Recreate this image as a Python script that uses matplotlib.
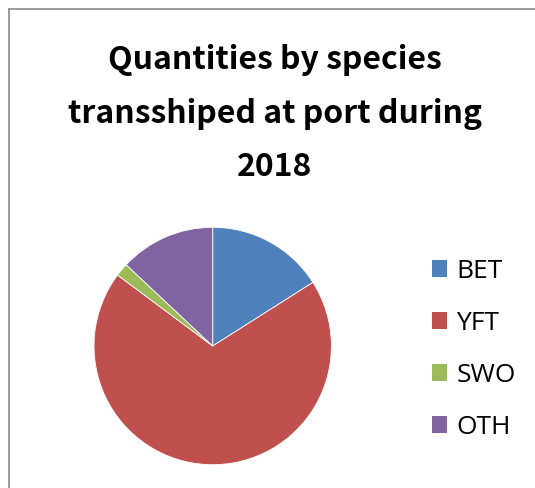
import matplotlib
matplotlib.use("Agg")
import matplotlib.pyplot as plt
from matplotlib.lines import Line2D
from matplotlib.patches import Patch

categories = ["BET", "YFT", "SWO", "OTH"]
values = [16.0, 69.2, 1.8, 13.0]
colors = ["#4F81BD", "#C0504D", "#9BBB59", "#8064A2"]
title = "Quantities by species\ntransshiped at port during\n2018"

W, H = 535, 488
fig = plt.figure(figsize=(W / 100, H / 100), dpi=100)
fig.patch.set_facecolor("white")

cx, cy, r = 212.7, 346, 118.7
ax = fig.add_axes([(cx - r) / W, (H - cy - r) / H, 2 * r / W, 2 * r / H])
ax.pie(values, colors=colors, startangle=90, counterclock=False,
       wedgeprops=dict(linewidth=0.6, edgecolor="white"))
ax.set_xlim(-1, 1)
ax.set_ylim(-1, 1)
ax.set_aspect("auto")
ax.axis("off")

# frame
fig.add_artist(Line2D([8.5 / W, 8.5 / W], [0, 1 - 8.5 / H], transform=fig.transFigure,
                      color="#8a8a8a", lw=1.2))
fig.add_artist(Line2D([8.5 / W, 1], [1 - 8.5 / H, 1 - 8.5 / H], transform=fig.transFigure,
                      color="#8a8a8a", lw=1.2))

fig.text(275 / W, 1 - 114 / H, title, ha="center", va="center",
         fontsize=23, fontweight="bold", family=["Noto Sans CJK KR", "DejaVu Sans"],
         linespacing=1.86)

handles = [Patch(facecolor=c, edgecolor="none") for c in colors]
fig.legend(handles, categories, loc="upper left", bbox_to_anchor=(431.7 / W, 1 - 259 / H),
           frameon=False, fontsize=19, handlelength=0.58, handleheight=0.6,
           handletextpad=0.35, labelspacing=1.02, borderpad=0, borderaxespad=0)
for t in fig.legends[0].get_texts():
    t.set_family(["Open Sans", "DejaVu Sans"])
    t.set_fontsize(19)

fig.savefig("out.png", dpi=100)
